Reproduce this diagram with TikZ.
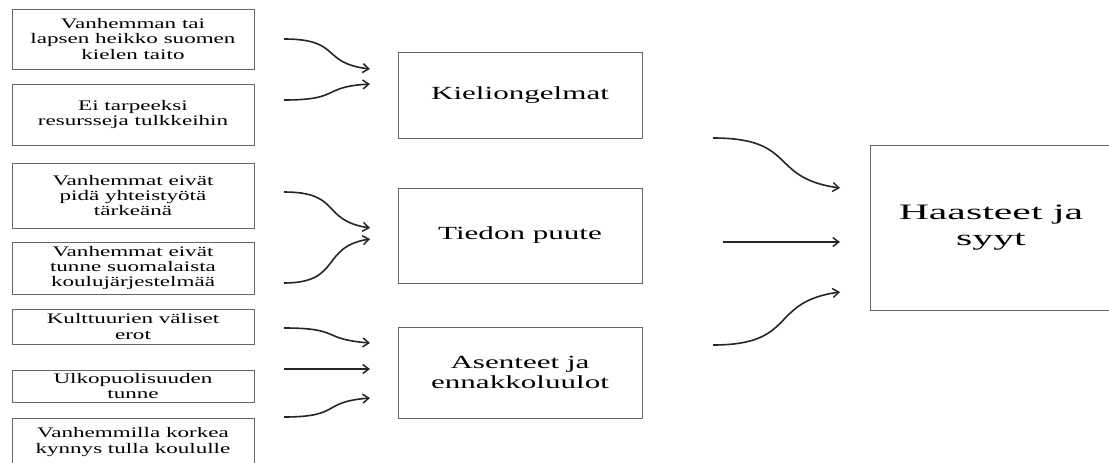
\documentclass[tikz,border=0pt]{standalone}
\usepackage{fontspec}
\setmainfont{Liberation Serif}
\newfontfamily\lfont[FakeStretch=1.58]{Liberation Serif}
\newfontfamily\mfont[FakeStretch=1.68]{Liberation Serif}
\newfontfamily\bfont[FakeStretch=1.9]{Liberation Serif}
\usetikzlibrary{arrows.meta}
\begin{document}
\begin{tikzpicture}[x=1pt,y=-1pt,
  srcbox/.style={draw=black!60, line width=0.9pt, minimum width=242pt, align=center, inner sep=0pt,
     font=\lfont\fontsize{14.6}{15.3}\selectfont, text=black},
  midbox/.style={draw=black!60, line width=0.9pt, minimum width=244pt, align=center, inner sep=0pt,
     font=\mfont\fontsize{18.5}{20}\selectfont, text=black},
  bigbox/.style={draw=black!60, line width=0.9pt, minimum width=242pt, minimum height=165pt, align=center, inner sep=0pt,
     font=\bfont\fontsize{22}{26}\selectfont, text=black},
  arr/.style={line width=1.6pt, black!85, -{Straight Barb[length=6pt,width=9pt,line width=1.5pt]}}
]
\clip (0,0) rectangle (1109,463);
\fill[white] (0,0) rectangle (1109,463);

% left boxes
\node[srcbox, minimum height=60pt] (s1) at (133,39) {Vanhemman tai\\lapsen heikko suomen\\kielen taito};
\node[srcbox, minimum height=61pt] (s2) at (133,114.5) {Ei tarpeeksi\\resursseja tulkkeihin};
\node[srcbox, minimum height=65pt] (s3) at (133,195.5) {Vanhemmat eivät\\pidä yhteistyötä\\tärkeänä};
\node[srcbox, minimum height=52pt] (s4) at (133,268) {Vanhemmat eivät\\tunne suomalaista\\koulujärjestelmää};
\node[srcbox, minimum height=35pt] (s5) at (133,326.5) {Kulttuurien väliset\\erot};
\node[srcbox, minimum height=32pt] (s6) at (133,386) {Ulkopuolisuuden\\tunne};
\node[srcbox, minimum height=48pt] (s7) at (133,442) {Vanhemmilla korkea\\kynnys tulla koululle};

% middle boxes
\node[midbox, minimum height=86pt] (m1) at (520,95) {Kieliongelmat};
\node[midbox, minimum height=95pt] (m2) at (520,235.5) {Tiedon puute};
\node[midbox, minimum height=91pt] (m3) at (520,372.5) {Asenteet ja\\ennakkoluulot};

% big box
\node[bigbox] (h) at (991,227.5) {Haasteet ja\\syyt};

% arrow end points
\coordinate (a1s) at (284,39);  \coordinate (a1e) at (370,69);
\coordinate (a2s) at (284,100); \coordinate (a2e) at (370,84);
\coordinate (a3s) at (284,192); \coordinate (a3e) at (370,228);
\coordinate (a4s) at (284,283); \coordinate (a4e) at (370,239);
\coordinate (a5s) at (284,328); \coordinate (a5e) at (370,343);
\coordinate (a6s) at (284,369); \coordinate (a6e) at (370,369);
\coordinate (a7s) at (284,417); \coordinate (a7e) at (370,398);
\coordinate (b1s) at (713,138); \coordinate (b1e) at (840,188);
\coordinate (b2s) at (723,242); \coordinate (b2e) at (840,242);
\coordinate (b3s) at (713,345); \coordinate (b3e) at (840,292);

\draw[arr] (a1s) .. controls +(58,0) and +(-50,-6) .. (a1e);
\draw[arr] (a2s) .. controls +(58,0) and +(-50,3) .. (a2e);
\draw[arr] (a3s) .. controls +(58,0) and +(-50,-8) .. (a3e);
\draw[arr] (a4s) .. controls +(58,0) and +(-50,8) .. (a4e);
\draw[arr] (a5s) .. controls +(58,0) and +(-50,-4) .. (a5e);
\draw[arr] (a6s) -- (a6e);
\draw[arr] (a7s) .. controls +(58,0) and +(-50,4) .. (a7e);
\draw[arr] (b1s) .. controls +(85,0) and +(-72,-10) .. (b1e);
\draw[arr] (b2s) -- (b2e);
\draw[arr] (b3s) .. controls +(85,0) and +(-72,10) .. (b3e);
\end{tikzpicture}
\end{document}
